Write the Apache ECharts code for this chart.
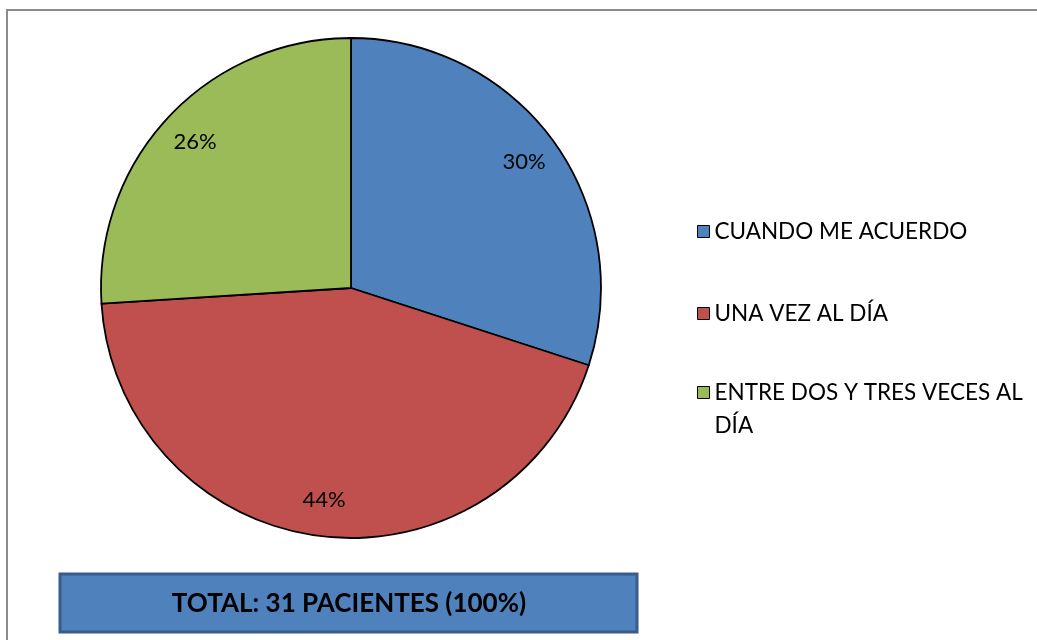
<!DOCTYPE html>
<html>
<head>
<meta charset="utf-8">
<script src="https://cdn.jsdelivr.net/npm/echarts@6/dist/echarts.min.js"></script>
<style>
  html, body { margin: 0; padding: 0; background: #fff; }
  #main { width: 1037px; height: 640px; }
</style>
</head>
<body>
<div id="main"></div>
<script>
// datos del gráfico
const categorias = ["CUANDO ME ACUERDO", "UNA VEZ AL DÍA", "ENTRE DOS Y TRES VECES AL DÍA"];
const porcentajes = [30, 44, 26];
const colores = ["#4F81BD", "#C0504D", "#9BBB59"];
const totalTexto = "TOTAL: 31 PACIENTES (100%)";

const fuente = "Lato, 'Open Sans', sans-serif";

const datos = categorias.map((name, i) => ({
  name,
  value: porcentajes[i],
  itemStyle: { color: colores[i] },
}));

// una leyenda por elemento para poder alinear el texto de dos líneas
// (el tercero lleva una línea vacía delante para que el cuadro quede en la primera línea)
const leyendaTops = [210, 292, 338];
const legend = categorias.map((name, i) => ({
  data: [name],
  left: 692,
  top: leyendaTops[i],
  orient: "vertical",
  itemWidth: 12,
  itemHeight: 12,
  itemGap: 0,
  icon: "rect",
  itemStyle: { borderColor: "#000", borderWidth: 1 },
  selectedMode: false,
  formatter: (n) => (i === 2 ? "\nENTRE DOS Y TRES VECES AL\nDÍA" : n),
  textStyle: {
    fontFamily: fuente,
    fontSize: 22.5,
    color: "#000",
    lineHeight: 33,
  },
}));

const myChart = echarts.init(document.querySelector("#main"));

myChart.setOption({
  animation: false,
  color: colores,
  legend,
  series: [
    {
      type: "pie",
      center: [351, 288],
      radius: [0, 250],
      startAngle: 90,
      clockwise: true,
      silent: true,
      itemStyle: { borderColor: "#000", borderWidth: 1.8 },
      label: { show: false },
      labelLine: { show: false },
      data: datos,
    },
    {
      // serie transparente solo para colocar las etiquetas de porcentaje
      type: "pie",
      center: [351, 288],
      radius: [172, 250],
      startAngle: 90,
      clockwise: true,
      silent: true,
      itemStyle: { color: "transparent", borderWidth: 0 },
      label: {
        show: true,
        position: "inside",
        formatter: "{c}%",
        fontFamily: fuente,
        fontSize: 22,
        color: "#000",
      },
      labelLine: { show: false },
      data: porcentajes.map((v, i) => ({ name: categorias[i], value: v })),
    },
  ],
  graphic: [
    {
      type: "rect",
      shape: { x: 7, y: 10, width: 1100, height: 700 },
      style: { fill: "none", stroke: "#8c8c8c", lineWidth: 2 },
      silent: true,
    },
    {
      type: "rect",
      shape: { x: 60, y: 574, width: 577, height: 58 },
      style: { fill: "#4F81BD", stroke: "#385D8A", lineWidth: 3 },
      silent: true,
    },
    {
      type: "text",
      x: 349,
      y: 604,
      style: {
        text: totalTexto,
        fontFamily: fuente,
        fontSize: 26,
        fontWeight: "bold",
        fill: "#000",
        align: "center",
        verticalAlign: "middle",
      },
      silent: true,
    },
  ],
});
</script>
</body>
</html>
